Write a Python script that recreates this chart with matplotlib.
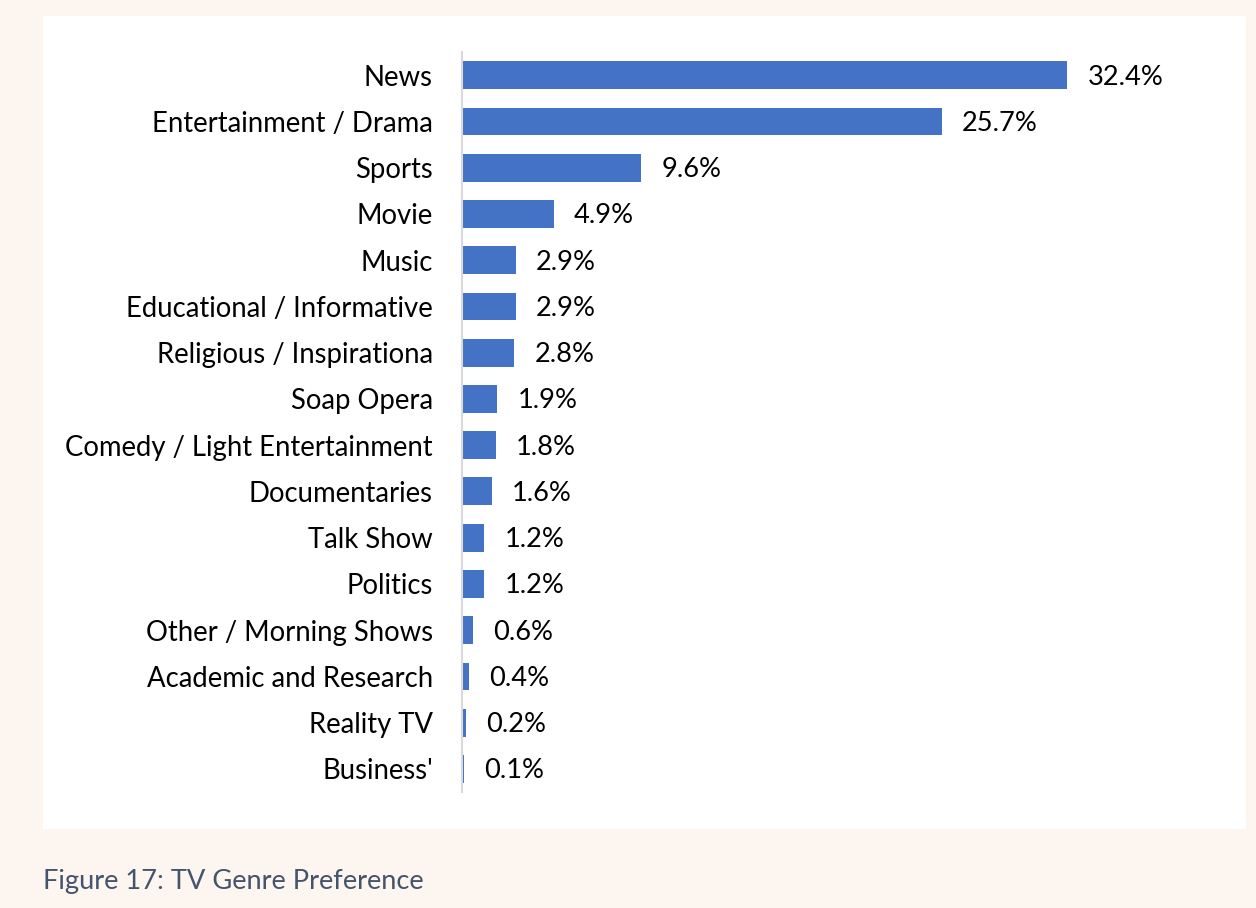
import matplotlib.pyplot as plt
from matplotlib.patches import Rectangle

genres = ['News', 'Entertainment / Drama', 'Sports', 'Movie', 'Music',
          'Educational / Informative', 'Religious / Inspirationa', 'Soap Opera',
          'Comedy / Light Entertainment', 'Documentaries', 'Talk Show', 'Politics',
          'Other / Morning Shows', 'Academic and Research', 'Reality TV', "Business'"]
shares = [32.4, 25.7, 9.6, 4.9, 2.9, 2.9, 2.8, 1.9, 1.8, 1.6, 1.2, 1.2, 0.6, 0.4, 0.2, 0.1]

plt.rcParams['font.family'] = ['Lato', 'DejaVu Sans']

fig = plt.figure(figsize=(12.56, 9.08), dpi=100)
fig.patch.set_facecolor('#fdf6f0')

# white panel behind the chart
panel = Rectangle((43 / 1256, 1 - 829 / 908), (1246 - 43) / 1256, (829 - 16) / 908,
                  transform=fig.transFigure, facecolor='white', edgecolor='none', zorder=-1)
fig.add_artist(panel)

ax = fig.add_axes([462 / 1256, 1 - 792 / 908, (1200 - 462) / 1256, (792 - 52) / 908])
ax.set_facecolor('none')
ax.set_zorder(2)

pos = list(range(len(genres)))
ax.barh(pos, shares, height=0.6, color='#4472c4')
ax.set_xlim(0, 39.5)
ax.set_ylim(len(genres) - 0.5, -0.5)

ax.set_yticks(pos)
ax.set_yticklabels(genres, fontsize=19.8, color='black')
ax.tick_params(axis='y', length=0, pad=21)
ax.set_xticks([])

for s in ['top', 'right', 'bottom']:
    ax.spines[s].set_visible(False)
ax.spines['left'].set_color('#d9d9d9')
ax.spines['left'].set_linewidth(1.5)

for p, v in zip(pos, shares):
    ax.annotate(f'{v}%', (v, p), xytext=(20, -2), textcoords='offset pixels',
                va='center', ha='left', fontsize=19.6, color='black')

fig.text(43 / 1256, 1 - 882 / 908, 'Figure 17: TV Genre Preference', fontsize=19.6,
         color='#44546a', va='center', ha='left')

fig.savefig('out.png', dpi=100, facecolor=fig.get_facecolor())
